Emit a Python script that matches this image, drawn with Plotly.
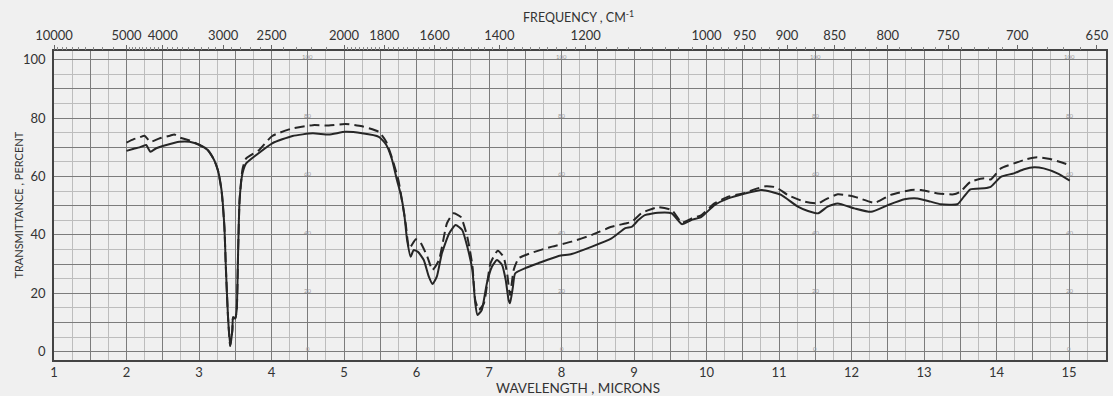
import plotly.graph_objects as go

# ---- data ----
wl_solid = [2.00, 2.10, 2.18, 2.27, 2.33, 2.41, 2.55, 2.73, 2.87, 3.01,
            3.12, 3.21, 3.26, 3.31, 3.35, 3.37, 3.40, 3.43, 3.46, 3.47,
            3.50, 3.52, 3.54, 3.56, 3.60, 3.65, 3.79, 4.01, 4.29, 4.57,
            4.79, 5.02, 5.25, 5.48, 5.58, 5.66, 5.73, 5.78, 5.83, 5.87,
            5.92, 5.96, 6.02, 6.10, 6.17, 6.22, 6.28, 6.35, 6.45, 6.54,
            6.63, 6.70, 6.77, 6.81, 6.84, 6.90, 6.97, 7.04, 7.11, 7.18,
            7.23, 7.27, 7.29, 7.33, 7.36, 7.50, 7.68, 7.96, 8.14, 8.42,
            8.69, 8.88, 8.97, 9.06, 9.15, 9.33, 9.52, 9.66, 9.79, 9.93,
            10.11, 10.30, 10.53, 10.76, 10.89, 11.03, 11.26, 11.40, 11.54, 11.67,
            11.81, 12.04, 12.27, 12.50, 12.73, 12.91, 13.09, 13.23, 13.46, 13.55,
            13.64, 13.83, 13.92, 14.06, 14.24, 14.38, 14.52, 14.65, 14.84, 15.01]
t_solid = [68.8, 69.5, 70.0, 70.8, 68.5, 69.7, 70.8, 71.9, 71.9, 70.8,
           69.1, 65.6, 62.2, 55.4, 42.8, 29.1, 12.0, 2.0, 7.4, 11.8,
           11.4, 14.3, 34.8, 52.0, 61.1, 64.5, 67.4, 71.4, 73.9, 74.8,
           74.4, 75.3, 74.8, 73.6, 71.0, 66.0, 58.8, 54.2, 47.4, 38.3,
           32.5, 34.8, 34.2, 31.4, 25.7, 23.2, 25.7, 33.7, 40.5, 43.4,
           41.7, 36.0, 28.0, 16.6, 12.6, 14.3, 23.4, 29.1, 31.4, 29.7,
           24.6, 17.7, 16.6, 22.3, 26.8, 28.6, 30.3, 32.8, 33.5, 36.0,
           38.8, 42.3, 42.8, 45.1, 46.8, 47.6, 47.4, 43.7, 45.1, 46.2,
           50.2, 52.5, 54.2, 55.4, 54.8, 53.7, 49.7, 48.2, 47.4, 49.7,
           50.8, 49.1, 47.9, 50.2, 52.2, 52.5, 51.4, 50.5, 50.5, 53.1,
           55.6, 56.0, 56.5, 59.9, 61.1, 62.5, 63.2, 62.8, 61.1, 58.6]

wl_dashed = [2.00, 2.10, 2.18, 2.25, 2.33, 2.46, 2.60, 2.66, 2.73, 2.87,
             3.01, 3.12, 3.21, 3.26, 3.31, 3.35, 3.37, 3.40, 3.43, 3.46,
             3.47, 3.50, 3.52, 3.54, 3.56, 3.60, 3.65, 3.83, 4.01, 4.29,
             4.57, 4.79, 5.02, 5.25, 5.48, 5.58, 5.66, 5.75, 5.85, 5.90,
             5.99, 6.05, 6.15, 6.22, 6.31, 6.42, 6.51, 6.61, 6.70, 6.77,
             6.81, 6.86, 6.93, 7.02, 7.12, 7.20, 7.25, 7.29, 7.34, 7.41,
             7.59, 7.87, 8.14, 8.42, 8.69, 8.88, 8.97, 9.10, 9.20, 9.33,
             9.52, 9.66, 9.79, 9.93, 10.11, 10.30, 10.53, 10.66, 10.82, 10.96,
             11.12, 11.35, 11.54, 11.63, 11.81, 12.04, 12.32, 12.54, 12.82, 12.96,
             13.19, 13.41, 13.50, 13.64, 13.83, 13.92, 14.06, 14.24, 14.42, 14.56,
             14.74, 15.01]
t_dashed = [71.6, 72.8, 73.4, 74.0, 71.9, 73.1, 74.0, 74.4, 73.4, 72.4,
            70.8, 69.1, 65.6, 62.2, 55.4, 42.8, 29.1, 12.0, 2.0, 7.4,
            11.8, 11.4, 14.3, 34.8, 52.0, 62.5, 66.2, 69.1, 73.9, 76.5,
            77.6, 77.5, 78.0, 77.2, 75.3, 72.0, 66.5, 58.8, 44.0, 35.4,
            38.5, 37.6, 32.5, 28.0, 31.4, 44.0, 47.4, 46.2, 39.4, 29.7,
            17.7, 14.3, 16.6, 30.3, 34.6, 32.5, 26.8, 19.4, 28.0, 32.0,
            33.9, 36.0, 37.7, 40.0, 42.8, 43.9, 44.5, 47.4, 48.5, 49.5,
            48.5, 44.2, 45.6, 46.8, 50.8, 53.1, 54.4, 55.6, 56.7, 56.3,
            53.7, 51.4, 50.8, 52.0, 53.9, 53.1, 51.0, 53.7, 55.4, 55.4,
            54.2, 53.9, 54.8, 58.2, 59.4, 59.0, 62.8, 64.5, 66.0, 66.6,
            66.0, 63.9]

wavelength_ticks = list(range(1, 16))
percent_ticks = [0, 20, 40, 60, 80, 100]
freq_labels = [10000, 5000, 4000, 3000, 2500, 2000, 1800, 1600, 1400, 1200,
               1000, 950, 900, 850, 800, 750, 700, 650]
chart_marks_wl = [4.5, 8, 11.5, 15]

assert len(wl_solid) == len(t_solid)
assert len(wl_dashed) == len(t_dashed)

# ---- figure ----
FONT = "Lato"
INK = "#262626"
TXT = "#333333"
PAPER = "#f0f0f0"
X_RANGE = [1, 15.51]
Y_RANGE = [-2.84, 103.0]
PLOT_H = 396 - 51 - 36

fig = go.Figure()
fig.add_trace(go.Scatter(x=wl_dashed, y=t_dashed, mode="lines",
                         line=dict(color=INK, width=2, dash="10px,5px",
                                   shape="spline", smoothing=0.5),
                         hoverinfo="skip"))
fig.add_trace(go.Scatter(x=wl_solid, y=t_solid, mode="lines",
                         line=dict(color=INK, width=2, shape="spline", smoothing=0.5),
                         hoverinfo="skip"))
# invisible trace to activate the top frequency axis
fig.add_trace(go.Scatter(x=[X_RANGE[0]], y=[-50], mode="markers",
                         marker=dict(opacity=0), xaxis="x2", hoverinfo="skip"))

x_major = [1 + 0.5 * i for i in range(30)]
x_text = [str(int(v)) if v in wavelength_ticks else "" for v in x_major]
y_major = list(range(0, 101, 10))
y_text = [str(v) if v in percent_ticks else "" for v in y_major]

minor_freq = (list(range(9500, 5000, -500)) + list(range(4900, 2000, -100)) +
              list(range(1980, 1000, -20)) + list(range(990, 649, -10)))
minor_freq = [f for f in minor_freq if f not in freq_labels]

fig.update_layout(
    width=1113, height=396, autosize=False,
    margin=dict(l=54, r=4, t=51, b=36),
    paper_bgcolor=PAPER, plot_bgcolor=PAPER,
    showlegend=False,
    font=dict(family=FONT, color=TXT, size=13),
    xaxis=dict(range=X_RANGE, tickmode="array", tickvals=x_major, ticktext=x_text,
               showgrid=True, gridcolor="#7c7c7c", gridwidth=1,
               minor=dict(tickmode="linear", tick0=1, dtick=0.25, showgrid=True,
                          gridcolor="#bdbdbd", gridwidth=1),
               ticks="", showline=True, linecolor="#444", linewidth=1.5, mirror=True,
               zeroline=False, tickfont=dict(size=13, family=FONT, color=TXT)),
    yaxis=dict(range=Y_RANGE, tickmode="array", tickvals=y_major, ticktext=y_text,
               showgrid=True, gridcolor="#7c7c7c", gridwidth=1,
               minor=dict(tickmode="linear", tick0=0, dtick=5, showgrid=True,
                          gridcolor="#bdbdbd", gridwidth=1),
               ticks="", showline=True, linecolor="#444", linewidth=1.5, mirror=True,
               zeroline=False, ticklabelstandoff=4,
               tickfont=dict(size=13, family=FONT, color=TXT)),
    xaxis2=dict(range=X_RANGE, overlaying="x", side="top", anchor="y",
                tickmode="array", tickvals=[10000 / f for f in freq_labels],
                ticktext=[str(f) for f in freq_labels],
                ticks="outside", ticklen=5, tickcolor="#666", tickwidth=1,
                minor=dict(tickmode="array", tickvals=[10000 / f for f in minor_freq],
                           ticks="outside", ticklen=3, tickcolor="#888", tickwidth=1,
                           showgrid=False),
                showgrid=False, zeroline=False, showline=False,
                tickfont=dict(size=13, family=FONT, color=TXT)),
)

# faint printed chart-paper numbers
for xv in chart_marks_wl:
    for yv in percent_ticks:
        fig.add_annotation(x=xv, y=yv + 1, xref="x", yref="y", text=str(yv),
                           showarrow=False, font=dict(size=6, color="#9a9a9a", family=FONT))

# axis titles
fig.add_annotation(x=8.23, y=(360 - 388) / PLOT_H, xref="x", yref="paper",
                   xanchor="center", yanchor="middle",
                   text="WAVELENGTH , MICRONS", showarrow=False,
                   font=dict(size=13.5, family=FONT, color=TXT))
fig.add_annotation(x=8.23, y=(360 - 17) / PLOT_H, xref="x", yref="paper",
                   xanchor="center", yanchor="middle",
                   text="FREQUENCY , CM<sup>-1</sup>", showarrow=False,
                   font=dict(size=12.5, family=FONT, color=TXT))
fig.add_annotation(x=(18 - 54) / 1055, y=0.5, xref="paper", yref="paper",
                   xanchor="center", yanchor="middle",
                   text="TRANSMITTANCE , PERCENT", textangle=-90, showarrow=False,
                   font=dict(size=11, family=FONT, color=TXT))

fig.write_html("out.html")
